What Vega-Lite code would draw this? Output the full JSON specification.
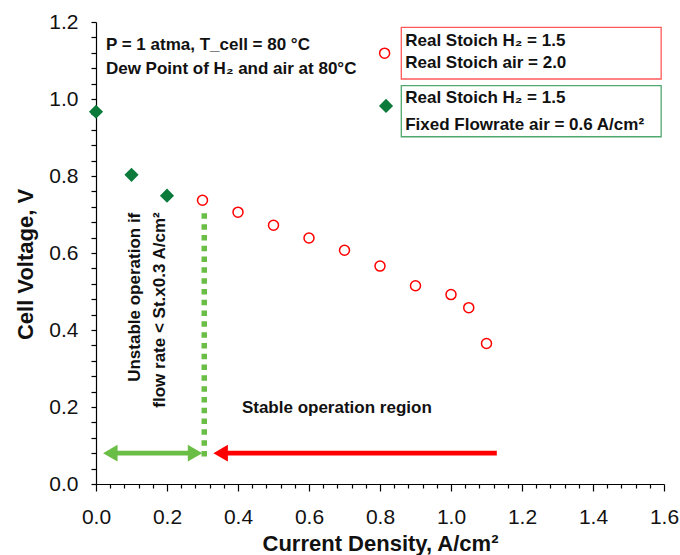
{
  "$schema": "https://vega.github.io/schema/vega-lite/v6.json",
  "width": 568,
  "height": 462,
  "autosize": {"type": "none"},
  "padding": {"left": 96, "top": 22, "right": 16, "bottom": 71},
  "background": "white",
  "config": {
    "view": {"stroke": null},
    "font": "Liberation Sans",
    "axis": {"grid": false, "domainColor": "#000", "tickColor": "#000", "labelColor": "#111", "titleColor": "#111", "labelFont": "Liberation Sans", "titleFont": "Liberation Sans", "labelFontSize": 21, "titleFontSize": 22, "titleFontWeight": "bold", "labelFontWeight": "normal", "domainWidth": 1.2, "tickWidth": 1.2}
  },
  "datasets": {
    "series": [
      {"x": 0.3, "y": 0.737, "s": "Real Stoich air = 2.0"},
      {"x": 0.4, "y": 0.706, "s": "Real Stoich air = 2.0"},
      {"x": 0.5, "y": 0.672, "s": "Real Stoich air = 2.0"},
      {"x": 0.6, "y": 0.639, "s": "Real Stoich air = 2.0"},
      {"x": 0.7, "y": 0.607, "s": "Real Stoich air = 2.0"},
      {"x": 0.8, "y": 0.566, "s": "Real Stoich air = 2.0"},
      {"x": 0.9, "y": 0.515, "s": "Real Stoich air = 2.0"},
      {"x": 1.0, "y": 0.492, "s": "Real Stoich air = 2.0"},
      {"x": 1.05, "y": 0.458, "s": "Real Stoich air = 2.0"},
      {"x": 1.1, "y": 0.365, "s": "Real Stoich air = 2.0"},
      {"x": 0.0, "y": 0.967, "s": "Fixed Flowrate air"},
      {"x": 0.1, "y": 0.803, "s": "Fixed Flowrate air"},
      {"x": 0.2, "y": 0.749, "s": "Fixed Flowrate air"}
    ],
    "legendpts": [
      {"x": 0.813, "y": 1.119, "s": "Real Stoich air = 2.0"},
      {"x": 0.817, "y": 0.982, "s": "Fixed Flowrate air"}
    ],
    "boxes": [
      {"x": 0.86, "x2": 1.592, "y": 1.186, "y2": 1.052, "s": "red"},
      {"x": 0.86, "x2": 1.592, "y": 1.035, "y2": 0.902, "s": "green"}
    ],
    "htexts": [
      {"x": 0.028, "y": 1.127, "t": "P = 1 atma, T_cell = 80 °C"},
      {"x": 0.028, "y": 1.064, "t": "Dew Point of H₂ and air at 80°C"},
      {"x": 0.871, "y": 1.1377, "t": "Real Stoich H₂ = 1.5"},
      {"x": 0.871, "y": 1.0797, "t": "Real Stoich air = 2.0"},
      {"x": 0.871, "y": 0.9904, "t": "Real Stoich H₂ = 1.5"},
      {"x": 0.871, "y": 0.9195, "t": "Fixed Flowrate air = 0.6 A/cm²"},
      {"x": 0.411, "y": 0.1836, "t": "Stable operation region"}
    ],
    "vtexts": [
      {"x": 0.1248, "y": 0.485, "t": "Unstable operation if"},
      {"x": 0.195, "y": 0.452, "t": "flow rate < St.x0.3 A/cm²"}
    ],
    "shafts": [
      {"x": 0.04, "x2": 0.279, "y": 0.08, "c": "green"},
      {"x": 0.351, "x2": 1.129, "y": 0.08, "c": "red"}
    ],
    "heads": [
      {"x": 0.0403, "y": 0.08, "dir": "left", "c": "green"},
      {"x": 0.279, "y": 0.08, "dir": "right", "c": "green"},
      {"x": 0.351, "y": 0.08, "dir": "left", "c": "red"}
    ],
    "divider": [
      {"x": 0.305, "y": 0.703, "y2": 0.064}
    ]
  },
  "layer": [
    {
      "data": {"name": "series"},
      "transform": [{"filter": "datum.s == 'Real Stoich air = 2.0'"}],
      "mark": {"type": "point", "shape": "circle", "filled": false, "stroke": "#FF0000", "strokeWidth": 1.5, "size": 100, "opacity": 1},
      "encoding": {
        "x": {"field": "x", "type": "quantitative", "scale": {"domain": [0, 1.6], "nice": false, "zero": false},
          "axis": {"title": "Current Density, A/cm²", "titleY": 66, "titleBaseline": "alphabetic", "tickCount": 200,
            "values": [0,0.04,0.08,0.12,0.16,0.2,0.24,0.28,0.32,0.36,0.4,0.44,0.48,0.52,0.56,0.6,0.64,0.68,0.72,0.76,0.8,0.84,0.88,0.92,0.96,1.0,1.04,1.08,1.12,1.16,1.2,1.24,1.28,1.32,1.36,1.4,1.44,1.48,1.52,1.56,1.6],
            "labelExpr": "abs(datum.value/0.2 - round(datum.value/0.2)) < 0.001 ? format(datum.value, '.1f') : ''",
            "tickSize": {"condition": {"test": "abs(datum.value/0.2 - round(datum.value/0.2)) < 0.001", "value": 7}, "value": 4},
            "labelPadding": 15, "labelFlush": false, "labelOverlap": false}},
        "y": {"field": "y", "type": "quantitative", "scale": {"domain": [0, 1.2], "nice": false, "zero": false},
          "axis": {"title": "Cell Voltage, V", "titleX": -64, "titleY": 242, "titleAngle": 270, "titleBaseline": "alphabetic", "titleAlign": "center", "tickCount": 200,
            "values": [0,0.04,0.08,0.12,0.16,0.2,0.24,0.28,0.32,0.36,0.4,0.44,0.48,0.52,0.56,0.6,0.64,0.68,0.72,0.76,0.8,0.84,0.88,0.92,0.96,1.0,1.04,1.08,1.12,1.16,1.2],
            "labelExpr": "abs(datum.value/0.2 - round(datum.value/0.2)) < 0.001 ? format(datum.value, '.1f') : ''",
            "tickSize": 5, "labelPadding": 13, "labelFlush": false, "labelOverlap": false}}
      }
    },
    {
      "data": {"name": "series"},
      "transform": [{"filter": "datum.s == 'Fixed Flowrate air'"}],
      "mark": {"type": "point", "shape": "diamond", "filled": true, "color": "#0B7A3B", "size": 200, "opacity": 1},
      "encoding": {"x": {"field": "x", "type": "quantitative"}, "y": {"field": "y", "type": "quantitative"}}
    },
    {
      "data": {"name": "legendpts"},
      "transform": [{"filter": "datum.s == 'Real Stoich air = 2.0'"}],
      "mark": {"type": "point", "shape": "circle", "filled": false, "stroke": "#FF0000", "strokeWidth": 1.5, "size": 100, "opacity": 1},
      "encoding": {"x": {"field": "x", "type": "quantitative"}, "y": {"field": "y", "type": "quantitative"}}
    },
    {
      "data": {"name": "legendpts"},
      "transform": [{"filter": "datum.s == 'Fixed Flowrate air'"}],
      "mark": {"type": "point", "shape": "diamond", "filled": true, "color": "#0B7A3B", "size": 200, "opacity": 1},
      "encoding": {"x": {"field": "x", "type": "quantitative"}, "y": {"field": "y", "type": "quantitative"}}
    },
    {
      "data": {"name": "boxes"},
      "mark": {"type": "rect", "fill": null, "fillOpacity": 0, "strokeWidth": 1.3},
      "encoding": {
        "x": {"field": "x", "type": "quantitative"}, "x2": {"field": "x2"},
        "y": {"field": "y", "type": "quantitative"}, "y2": {"field": "y2"},
        "stroke": {"field": "s", "type": "nominal", "scale": {"domain": ["red", "green"], "range": ["#FF5a5a", "#4FA86E"]}, "legend": null}
      }
    },
    {
      "data": {"name": "divider"},
      "mark": {"type": "rule", "color": "#6ABD45", "strokeWidth": 5.5, "strokeDash": [5.5, 5.3], "strokeCap": "butt"},
      "encoding": {"x": {"field": "x", "type": "quantitative"}, "y": {"field": "y", "type": "quantitative"}, "y2": {"field": "y2"}}
    },
    {
      "data": {"name": "shafts"},
      "mark": {"type": "rule", "strokeWidth": 4.8, "strokeCap": "butt"},
      "encoding": {
        "x": {"field": "x", "type": "quantitative"}, "x2": {"field": "x2"},
        "y": {"field": "y", "type": "quantitative"},
        "color": {"field": "c", "type": "nominal", "scale": {"domain": ["green", "red"], "range": ["#6ABD45", "#FF0000"]}, "legend": null}
      }
    },
    {
      "data": {"name": "heads"},
      "mark": {"type": "point", "filled": true, "size": 280, "opacity": 1},
      "encoding": {
        "x": {"field": "x", "type": "quantitative"},
        "y": {"field": "y", "type": "quantitative"},
        "shape": {"field": "dir", "type": "nominal", "scale": {"domain": ["left", "right"], "range": ["triangle-left", "triangle-right"]}, "legend": null},
        "color": {"field": "c", "type": "nominal", "scale": {"domain": ["green", "red"], "range": ["#6ABD45", "#FF0000"]}, "legend": null}
      }
    },
    {
      "data": {"name": "htexts"},
      "mark": {"type": "text", "align": "left", "baseline": "alphabetic", "font": "Liberation Sans", "fontWeight": "bold", "fontSize": 17, "color": "#111"},
      "encoding": {"x": {"field": "x", "type": "quantitative"}, "y": {"field": "y", "type": "quantitative"}, "text": {"field": "t"}}
    },
    {
      "data": {"name": "vtexts"},
      "mark": {"type": "text", "align": "center", "baseline": "alphabetic", "angle": 270, "font": "Liberation Sans", "fontWeight": "bold", "fontSize": 17, "color": "#111"},
      "encoding": {"x": {"field": "x", "type": "quantitative"}, "y": {"field": "y", "type": "quantitative"}, "text": {"field": "t"}}
    }
  ]
}
